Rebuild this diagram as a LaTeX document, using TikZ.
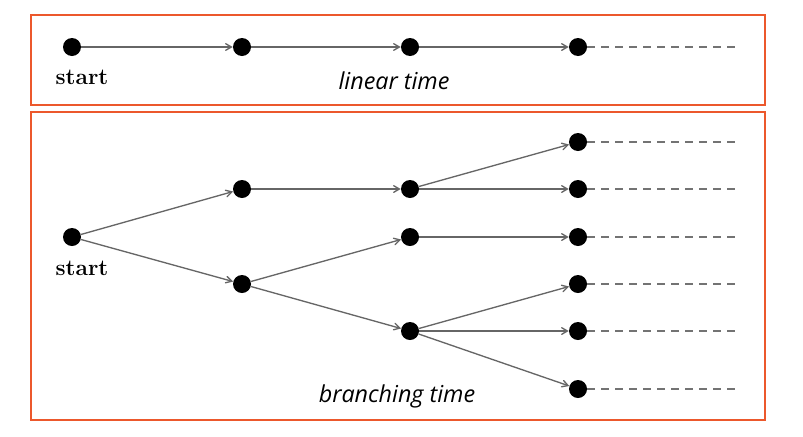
\documentclass[tikz,border=0pt]{standalone}
\usepackage{fontspec}
\newfontfamily\labelfont{Open Sans}
\usetikzlibrary{arrows}
\definecolor{frameorange}{RGB}{236,88,44}
\tikzset{dot/.style={circle,fill=black,inner sep=0pt,minimum size=13.5pt},
frame/.style={draw=frameorange,line width=2.2pt},
edge/.style={draw=black!60,line width=1pt,->},
tail/.style={draw=black!55,line width=1pt,dash pattern=on 6pt off 4.5pt},
startlbl/.style={font=\fontsize{17}{17}\selectfont\bfseries},
caption/.style={font=\labelfont\itshape\fontsize{17.5}{17.5}\selectfont},
>={angle 60}}
\begin{document}
\begin{tikzpicture}[x=0.75pt,y=-0.75pt]
  \useasboundingbox (0,0) rectangle (803,436);
  % frames
  \draw [frame] (31,15) rectangle (765,105);
  \draw [frame] (31,112) rectangle (765,420);
  % linear time
  \node (l0) [dot] at (72,47) {};
  \node (l1) [dot] at (242,47) {};
  \node (l2) [dot] at (410,47) {};
  \node (l3) [dot] at (578,47) {};
  \coordinate (le) at (735,47);
  \draw [edge] (l0) -- (l1);
  \draw [edge] (l1) -- (l2);
  \draw [edge] (l2) -- (l3);
  \draw [tail] (l3) -- (le);
  \node [startlbl] at (82,77) {start};
  \node [caption] at (394,81) {linear time};
  % branching time
  \node (b0) [dot] at (72,237) {};
  \node (b1) [dot] at (242,189) {};
  \node (b2) [dot] at (242,284) {};
  \node (b3) [dot] at (410,189) {};
  \node (b4) [dot] at (410,237) {};
  \node (b5) [dot] at (410,331) {};
  \foreach \n/\y in {1/142,2/189,3/237,4/284,5/331,6/389} {
    \node (c\n) [dot] at (578,\y) {};
    \coordinate (e\n) at (735,\y);
    \draw [tail] (c\n) -- (e\n);
  }
  \draw [edge] (b0) -- (b1);
  \draw [edge] (b0) -- (b2);
  \draw [edge] (b1) -- (b3);
  \draw [edge] (b2) -- (b4);
  \draw [edge] (b2) -- (b5);
  \draw [edge] (b3) -- (c1);
  \draw [edge] (b3) -- (c2);
  \draw [edge] (b4) -- (c3);
  \draw [edge] (b5) -- (c4);
  \draw [edge] (b5) -- (c5);
  \draw [edge] (b5) -- (c6);
  \node [startlbl] at (82,268) {start};
  \node [caption] at (397,396) {branching time};
\end{tikzpicture}
\end{document}
